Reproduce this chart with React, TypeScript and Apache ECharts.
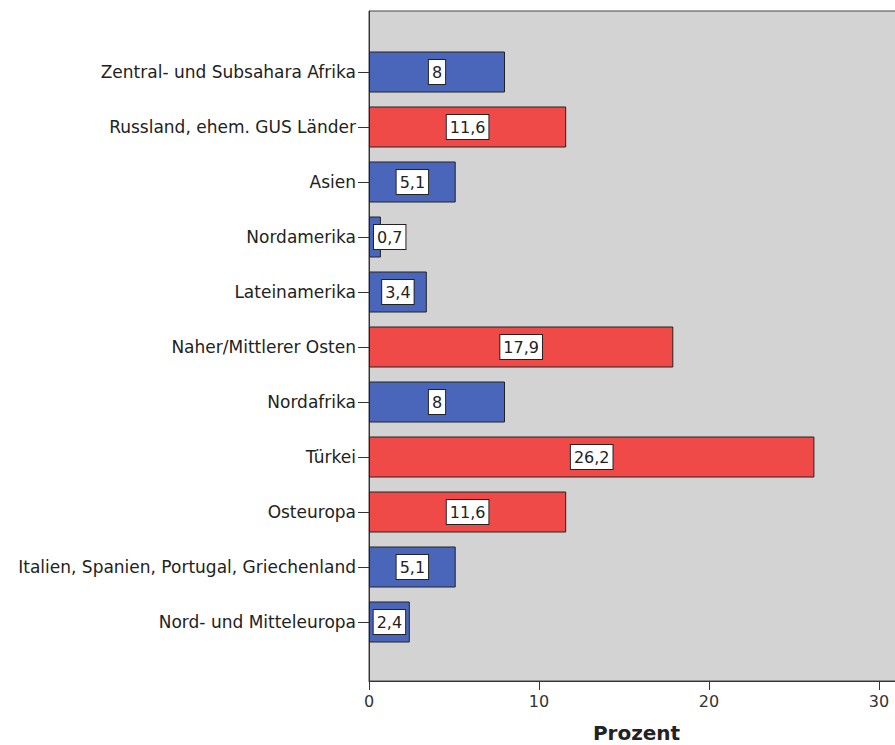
import React, { useEffect, useRef } from "react";
import * as echarts from "echarts";

const categories = [
  "Zentral- und Subsahara Afrika",
  "Russland, ehem. GUS Länder",
  "Asien",
  "Nordamerika",
  "Lateinamerika",
  "Naher/Mittlerer Osten",
  "Nordafrika",
  "Türkei",
  "Osteuropa",
  "Italien, Spanien, Portugal, Griechenland",
  "Nord- und Mitteleuropa",
];
const values = [8, 11.6, 5.1, 0.7, 3.4, 17.9, 8, 26.2, 11.6, 5.1, 2.4];
const highlighted = [false, true, false, false, false, true, false, true, true, false, false];
const labels = ["8", "11,6", "5,1", "0,7", "3,4", "17,9", "8", "26,2", "11,6", "5,1", "2,4"];
const xTicks = [0, 10, 20, 30];

const BLUE = "#4a66bb";
const RED = "#ef4a48";
const FONT = "DejaVu Sans";

export default function App() {
  const ref = useRef<HTMLDivElement>(null);
  useEffect(() => {
    if (!ref.current) return;
    const chart = echarts.init(ref.current, undefined, { renderer: "svg" });
    const xMax = 31;
    chart.setOption({
      animation: false,
      backgroundColor: "#ffffff",
      textStyle: { fontFamily: FONT },
      grid: [
        {
          left: 369,
          right: -1,
          top: 11,
          bottom: 64,
          show: true,
          backgroundColor: "#d3d3d3",
          borderColor: "#444",
          borderWidth: 1,
          outerBoundsMode: "none",
          containLabel: false,
        },
        { left: 369, right: -1, top: 44.5, height: 605, outerBoundsMode: "none", containLabel: false },
      ],
      xAxis: [
        {
          gridIndex: 0,
          type: "value",
          min: 0,
          max: xMax,
          interval: 10,
          splitLine: { show: false },
          axisLine: { show: true, lineStyle: { color: "#333", width: 1 } },
          axisTick: { show: true, length: 9, lineStyle: { color: "#333" } },
          axisLabel: {
            color: "#333",
            fontSize: 16,
            margin: 12,
            fontFamily: FONT,
            showMaxLabel: false,
            formatter: (v: number) => (xTicks.includes(v) ? String(v) : ""),
          },
          name: "Prozent",
          nameLocation: "middle",
          nameGap: 42,
          nameTextStyle: {
            fontSize: 20,
            lineHeight: 20,
            fontWeight: "bold",
            color: "#222",
            fontFamily: FONT,
            padding: [0, 0, 0, 8],
          },
        },
        {
          gridIndex: 1,
          type: "value",
          min: 0,
          max: xMax,
          show: false,
        },
      ],
      yAxis: [
        {
          gridIndex: 0,
          type: "value",
          min: 0,
          max: 1,
          axisLine: { show: true, lineStyle: { color: "#333" } },
          axisTick: { show: false },
          axisLabel: { show: false },
          splitLine: { show: false },
        },
        {
          gridIndex: 1,
          type: "category",
          data: categories,
          inverse: true,
          axisLine: { show: false },
          axisTick: { show: true, alignWithLabel: true, length: 11, lineStyle: { color: "#333" } },
          axisLabel: { color: "#222", fontSize: 17, margin: 13, fontFamily: FONT },
          splitLine: { show: false },
        },
      ],
      series: [
        {
          type: "bar",
          xAxisIndex: 1,
          yAxisIndex: 1,
          barWidth: 41,
          data: values.map((v, i) => ({
            value: v,
            itemStyle: {
              color: highlighted[i] ? RED : BLUE,
              borderColor: "#222",
              borderWidth: 1,
            },
            label: {
              show: true,
              position: v < 2 ? "insideLeft" : "inside",
              distance: 5,
              formatter: () => labels[i],
              color: "#222",
              fontSize: 16,
              lineHeight: 18,
              fontFamily: FONT,
              backgroundColor: "#ffffff",
              borderColor: "#222",
              borderWidth: 1,
              padding: [3, 3, 3, 3],
            },
          })),
        },
      ],
    });
    return () => chart.dispose();
  }, []);
  return (
    <div
      ref={ref}
      style={{ position: "fixed", left: 0, top: 0, width: 895, height: 745 }}
    />
  );
}
